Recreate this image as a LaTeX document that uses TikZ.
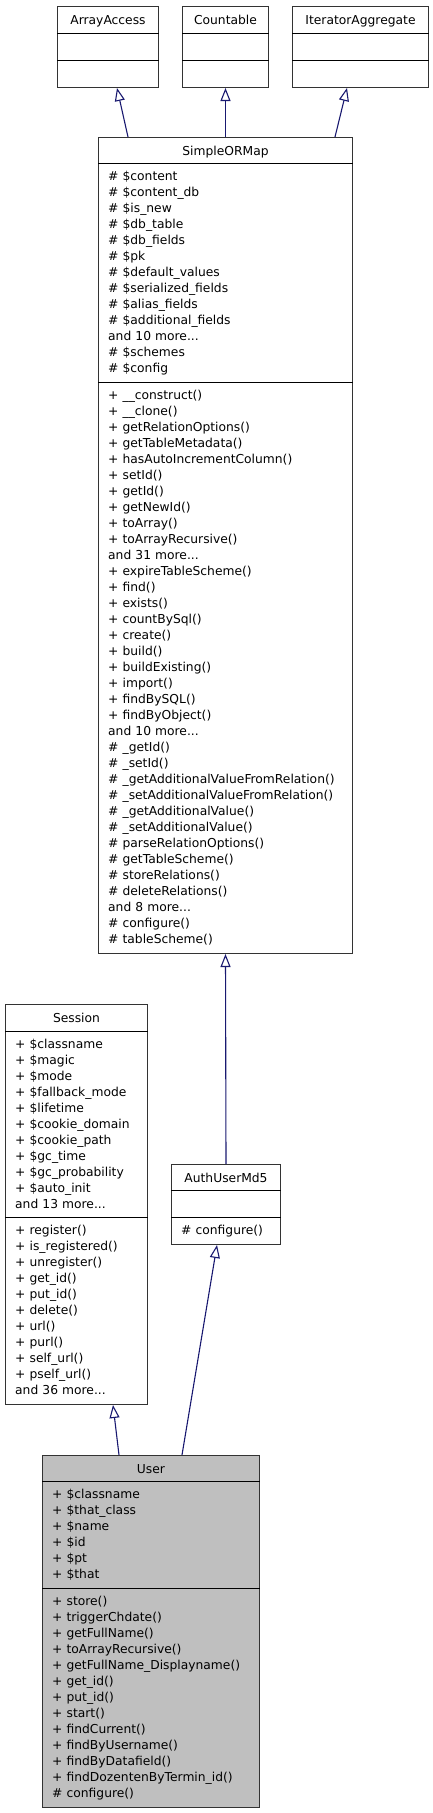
\documentclass[tikz,border=0pt]{standalone}
\usepackage{fontspec}
\setmainfont{DejaVu Sans}
\usetikzlibrary{arrows.meta}
\definecolor{edgeblue}{HTML}{191970}
\definecolor{focusgray}{HTML}{BFBFBF}

\begin{document}
\begin{tikzpicture}
  [x=1pt,y=-1pt,
   every node/.style={inner sep=0pt,font=\fontsize{12.3}{16}\selectfont},
   classbox/.style={draw=black!80,line width=1pt,anchor=north west},
   classname/.style={anchor=base},
   members/.style={anchor=base west,align=left,text width=300pt},
   divider/.style={line width=1pt},
   inheritarrow/.style={draw=edgeblue,line width=1.1pt,-{Triangle[open,length=13pt,width=10pt]}}]
  \useasboundingbox (0,0) rectangle (433,1813);

  % Interfaces arriba
  \foreach \id/\x/\w/\txt in {aa/57/101/ArrayAccess, cnt/182/86/Countable, iter/292/136/IteratorAggregate}{
    \node[classbox,minimum width=\w pt,minimum height=81pt] (\id) at (\x,6) {};
    \node[classname] (\id-name) at ([yshift=-18pt]\id.north) {\txt};
    \draw[divider] ([yshift=-27pt]\id.north west) -- ([yshift=-27pt]\id.north east);
    \draw[divider] ([yshift=-54pt]\id.north west) -- ([yshift=-54pt]\id.north east);
  }

  % SimpleORMap
  \node[classbox,minimum width=254pt,minimum height=816pt] (sorm) at (98,137) {};
  \node[classname] (sorm-name) at ([yshift=-18pt]sorm.north) {SimpleORMap};
  \draw[divider] ([yshift=-26pt]sorm.north west) -- ([yshift=-26pt]sorm.north east);
  \draw[divider] ([yshift=-245pt]sorm.north west) -- ([yshift=-245pt]sorm.north east);
  \node[members] (sorm-attr) at ([xshift=10pt,yshift=-43.5pt]sorm.north west)
    {\# \$content\\ \# \$content\_db\\ \# \$is\_new\\ \# \$db\_table\\
     \# \$db\_fields\\ \# \$pk\\ \# \$default\_values\\ \# \$serialized\_fields\\
     \# \$alias\_fields\\ \# \$additional\_fields\\ and 10 more...\\
     \# \$schemes\\ \# \$config};
  \node[members] (sorm-ops) at ([xshift=10pt,yshift=-262.5pt]sorm.north west)
    {+ \_\_construct()\\ + \_\_clone()\\ + getRelationOptions()\\ + getTableMetadata()\\
     + hasAutoIncrementColumn()\\ + setId()\\ + getId()\\ + getNewId()\\ + toArray()\\
     + toArrayRecursive()\\ and 31 more...\\ + expireTableScheme()\\ + find()\\
     + exists()\\ + countBySql()\\ + create()\\ + build()\\ + buildExisting()\\
     + import()\\ + findBySQL()\\ + findByObject()\\ and 10 more...\\
     \# \_getId()\\ \# \_setId()\\ \# \_getAdditionalValueFromRelation()\\
     \# \_setAdditionalValueFromRelation()\\ \# \_getAdditionalValue()\\
     \# \_setAdditionalValue()\\ \# parseRelationOptions()\\ \# getTableScheme()\\
     \# storeRelations()\\ \# deleteRelations()\\ and 8 more...\\
     \# configure()\\ \# tableScheme()};

  % Session
  \node[classbox,minimum width=142pt,minimum height=400pt] (session) at (5,1004) {};
  \node[classname] (session-name) at ([yshift=-18pt]session.north) {Session};
  \draw[divider] ([yshift=-27pt]session.north west) -- ([yshift=-27pt]session.north east);
  \draw[divider] ([yshift=-213pt]session.north west) -- ([yshift=-213pt]session.north east);
  \node[members] (session-attr) at ([xshift=10pt,yshift=-44.5pt]session.north west)
    {+ \$classname\\ + \$magic\\ + \$mode\\ + \$fallback\_mode\\ + \$lifetime\\
     + \$cookie\_domain\\ + \$cookie\_path\\ + \$gc\_time\\ + \$gc\_probability\\
     + \$auto\_init\\ and 13 more...};
  \node[members] (session-ops) at ([xshift=10pt,yshift=-230.5pt]session.north west)
    {+ register()\\ + is\_registered()\\ + unregister()\\ + get\_id()\\ + put\_id()\\
     + delete()\\ + url()\\ + purl()\\ + self\_url()\\ + pself\_url()\\ and 36 more...};

  % AuthUserMd5
  \node[classbox,minimum width=109pt,minimum height=80pt] (auth) at (171,1164) {};
  \node[classname] (auth-name) at ([yshift=-18pt]auth.north) {AuthUserMd5};
  \draw[divider] ([yshift=-26pt]auth.north west) -- ([yshift=-26pt]auth.north east);
  \draw[divider] ([yshift=-53pt]auth.north west) -- ([yshift=-53pt]auth.north east);
  \node[members] (auth-ops) at ([xshift=10pt,yshift=-70.5pt]auth.north west) {\# configure()};

  % User (clase en foco)
  \node[classbox,fill=focusgray,minimum width=217pt,minimum height=352pt] (user) at (42,1455) {};
  \node[classname] (user-name) at ([yshift=-18pt]user.north) {User};
  \draw[divider] ([yshift=-26pt]user.north west) -- ([yshift=-26pt]user.north east);
  \draw[divider] ([yshift=-133pt]user.north west) -- ([yshift=-133pt]user.north east);
  \node[members] (user-attr) at ([xshift=10pt,yshift=-43.5pt]user.north west)
    {+ \$classname\\ + \$that\_class\\ + \$name\\ + \$id\\ + \$pt\\ + \$that};
  \node[members] (user-ops) at ([xshift=10pt,yshift=-150.5pt]user.north west)
    {+ store()\\ + triggerChdate()\\ + getFullName()\\ + toArrayRecursive()\\
     + getFullName\_Displayname()\\ + get\_id()\\ + put\_id()\\ + start()\\
     + findCurrent()\\ + findByUsername()\\ + findByDatafield()\\
     + findDozentenByTermin\_id()\\ \# configure()};

  % Herencia
  \draw[inheritarrow] ([xshift=30pt]sorm.north west) -- ([xshift=60pt]aa.south west);
  \draw[inheritarrow] (sorm.north) -- (cnt.south);
  \draw[inheritarrow] ([xshift=237pt]sorm.north west) -- ([xshift=55pt]iter.south west);
  \draw[inheritarrow] (auth.north) -- (sorm.south);
  \draw[inheritarrow] ([xshift=77pt]user.north west) -- ([xshift=108pt]session.south west);
  \draw[inheritarrow] ([xshift=140pt]user.north west) -- ([xshift=46pt]auth.south west);
\end{tikzpicture}
\end{document}
